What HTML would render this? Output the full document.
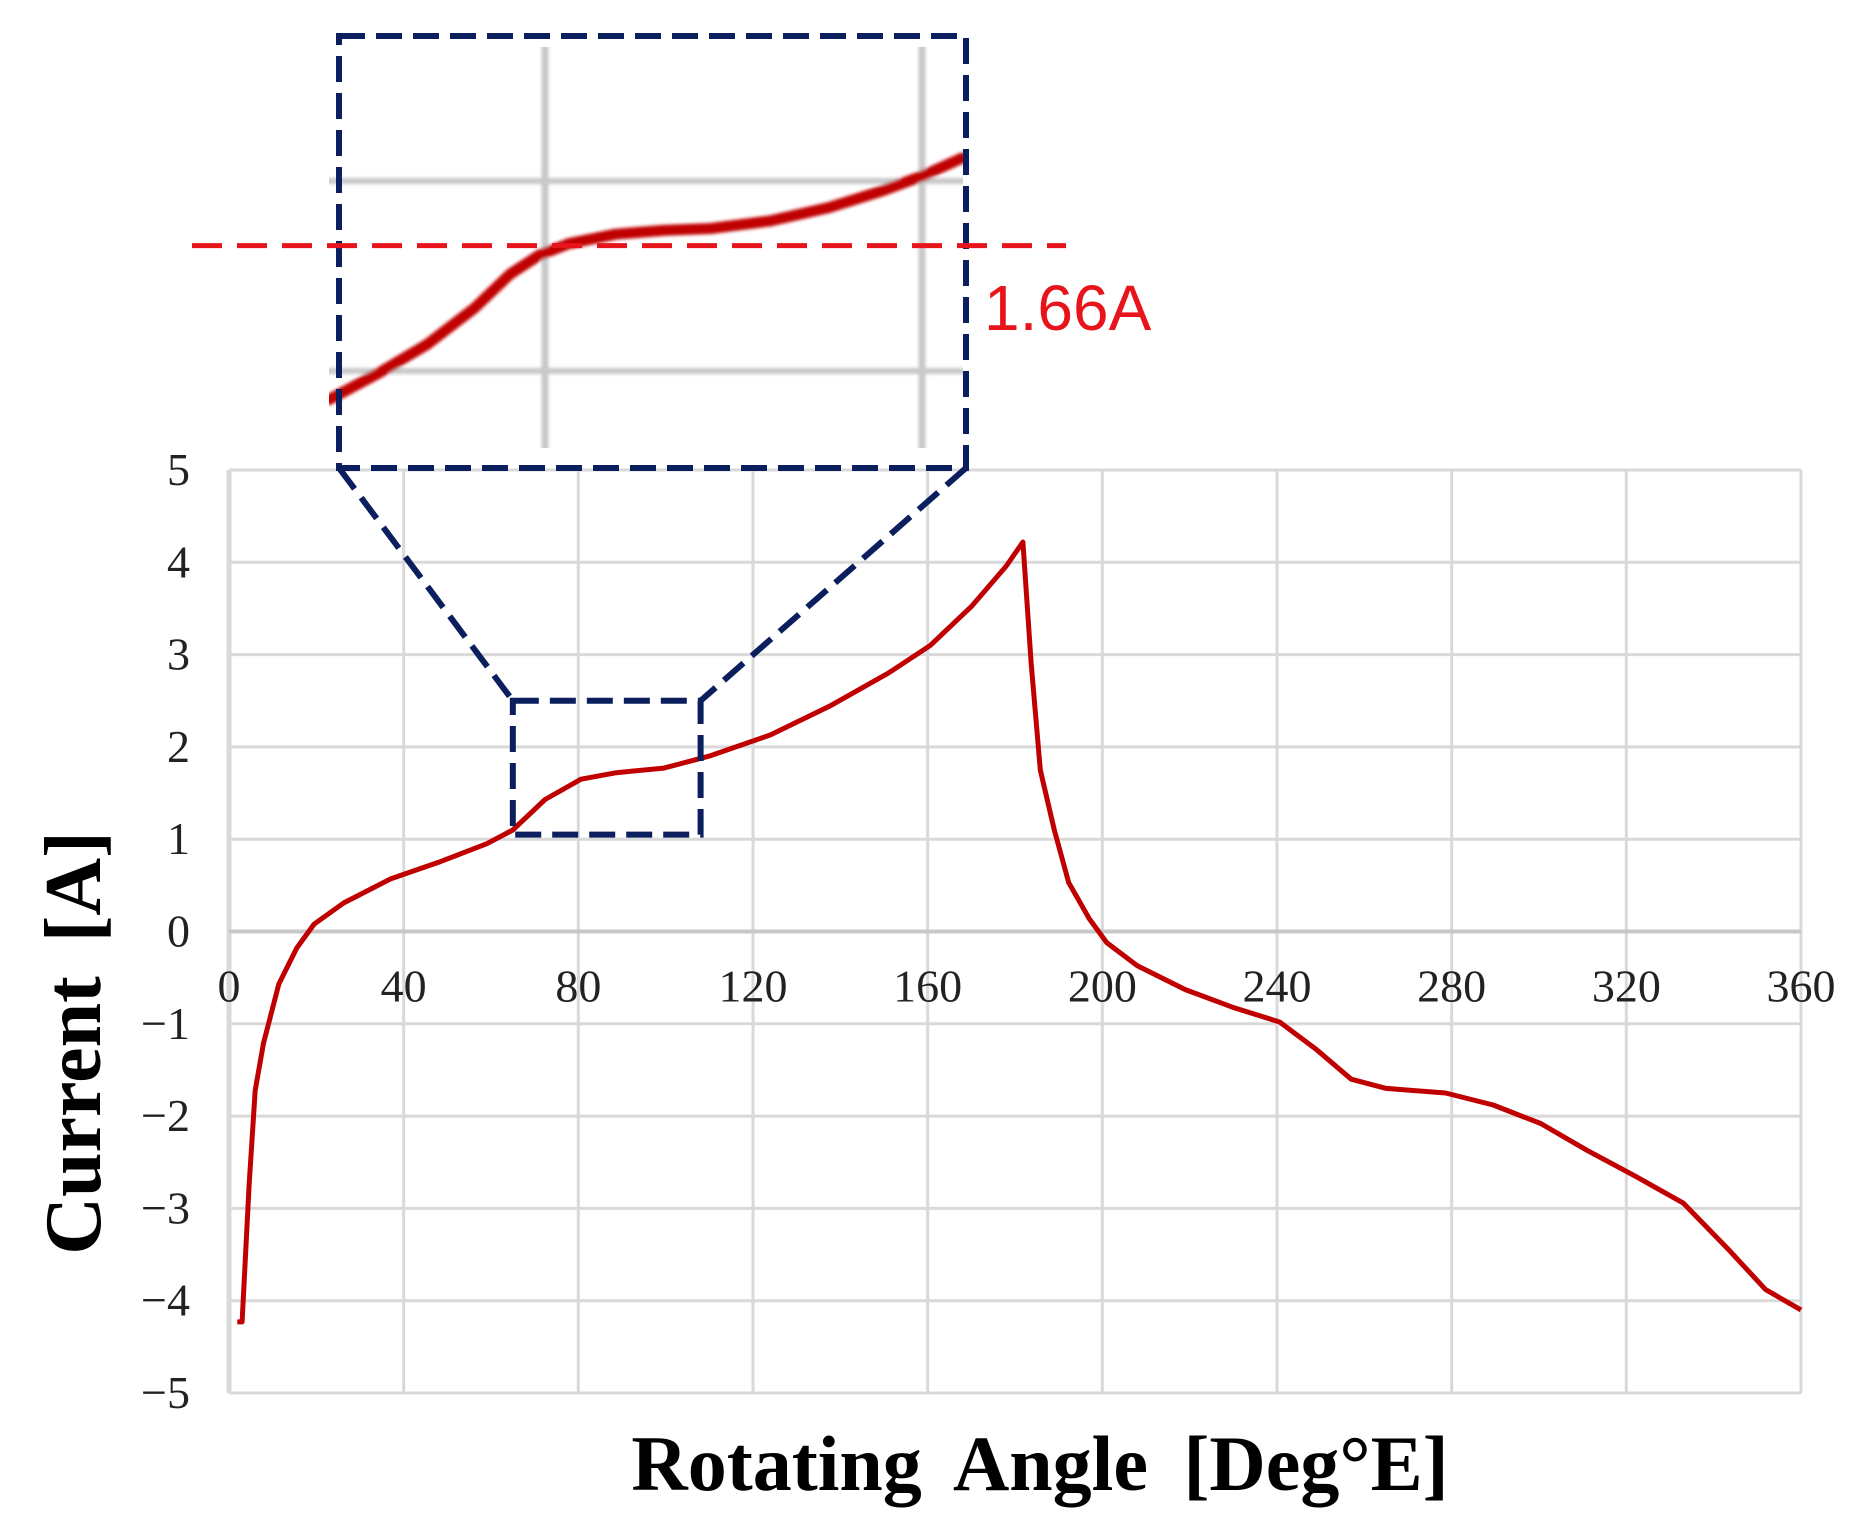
<!DOCTYPE html>
<html><head><meta charset="utf-8"><style>
html,body{margin:0;padding:0;background:#fff;}
svg{display:block;}
.tick{font-family:"Liberation Serif",serif;font-size:46px;fill:#222;}
.title{font-family:"Liberation Serif",serif;font-weight:bold;fill:#000;}
</style></head><body>
<svg id="chart" width="1858" height="1534" viewBox="0 0 1858 1534">
<defs>
<filter id="blur" x="-5%" y="-5%" width="110%" height="110%"><feGaussianBlur stdDeviation="1.6"/></filter>
<clipPath id="insetClip"><rect x="329" y="47" width="634" height="401"/></clipPath>
</defs>
<g id="grid"></g>
<g id="inset" clip-path="url(#insetClip)" filter="url(#blur)"></g>
<g id="marks"></g>
<g id="annot"></g>
<text class="title" font-size="80" word-spacing="14" text-anchor="middle" transform="translate(100,1043) rotate(-90)">Current [A]</text>
<text class="title" font-size="78" word-spacing="16" text-anchor="middle" x="1040" y="1490">Rotating Angle [Deg°E]</text>
<text x="984" y="330" font-family="Liberation Sans, sans-serif" font-size="64" fill="#e8141b">1.66A</text>
</svg>
<script>
const xTicks = [0,40,80,120,160,200,240,280,320,360];
const yTicks = [5,4,3,2,1,0,-1,-2,-3,-4,-5];
const angles = [1.9,3,4.6,6,7.9,11.4,15.5,19.5,26.3,37,48,59,65,72.4,80.6,88.7,99.6,110,124,137.5,151,160.6,170,178,181.8,183.7,185.8,189,192.3,197,201,208,219,229.8,240.6,248.8,257,265,278.6,289.5,300.4,311,322,333,343.7,351.9,360];
const currents = [-4.23,-4.23,-2.75,-1.72,-1.21,-0.57,-0.18,0.08,0.31,0.57,0.75,0.95,1.1,1.43,1.65,1.72,1.77,1.9,2.13,2.44,2.8,3.1,3.52,3.96,4.22,2.9,1.75,1.1,0.53,0.14,-0.12,-0.37,-0.63,-0.82,-0.98,-1.27,-1.6,-1.7,-1.75,-1.88,-2.08,-2.37,-2.65,-2.94,-3.46,-3.88,-4.1];
const insetAngles = [57.1,62.4,67.5,72.5,76.3,79.4,82.5,87.5,92.6,97.6,103.9,110.1,115.9,120.2,124.2];
const insetCurrents = [0.85,0.99,1.14,1.33,1.51,1.61,1.67,1.72,1.74,1.75,1.79,1.86,1.95,2.03,2.12];
const insetGridX = [80,120];
const insetGridY = [1,2];
const threshold = 1.66;
const zoomRange = {a0:65, a1:108, c0:1.05, c1:2.5};

const NS='http://www.w3.org/2000/svg';
const X0=229,X1=1801,Y0=470,Y1=1393;
const xs=v=>X0+(v-0)/360*(X1-X0);
const ys=v=>Y0+(5-v)/10*(Y1-Y0);
const ixs=v=>545+(v-80)*9.425;
const iys=v=>181+(2-v)*190;
function mk(tag,attrs,parent){const e=document.createElementNS(NS,tag);for(const k in attrs)e.setAttribute(k,attrs[k]);parent.appendChild(e);return e;}
const grid=document.getElementById('grid'),marks=document.getElementById('marks'),annot=document.getElementById('annot'),inset=document.getElementById('inset');

xTicks.forEach(t=>{
  const l=mk('line',{x1:xs(t),x2:xs(t),y1:Y0,y2:Y1,stroke:'#d9d9d9','stroke-width':(t===0?5:3)},grid);
  
  
  const tx=mk('text',{x:xs(t),y:ys(0)+70,'text-anchor':'middle',class:'tick'},grid);
  tx.textContent=t;
  
  
});
yTicks.forEach(t=>{
  const l=mk('line',{x1:X0,x2:X1,y1:ys(t),y2:ys(t),stroke:(t===0?'#c8c8c8':'#d9d9d9'),'stroke-width':(t===0?4:3)},grid);
  
  
  const tx=mk('text',{x:190,y:ys(t)+15,'text-anchor':'end',class:'tick'},grid);
  tx.textContent=(t<0?'\u2212':'')+Math.abs(t);
  
  
});

insetGridX.forEach(v=>{
  const l=mk('line',{x1:ixs(v),x2:ixs(v),y1:40,y2:460,stroke:'#c8c8c8','stroke-width':7},inset);
  
  
});
insetGridY.forEach(v=>{
  const l=mk('line',{x1:320,x2:970,y1:iys(v),y2:iys(v),stroke:'#c8c8c8','stroke-width':6},inset);
  
  
});
const ip=mk('path',{d:insetAngles.map((a,i)=>(i?'L':'M')+ixs(a).toFixed(1)+','+iys(insetCurrents[i]).toFixed(1)).join(' '),fill:'none',stroke:'#c00000','stroke-width':11,'stroke-linejoin':'round','stroke-linecap':'round'},inset);



const p=mk('path',{d:angles.map((a,i)=>(i?'L':'M')+xs(a).toFixed(1)+','+ys(currents[i]).toFixed(1)).join(' '),fill:'none',stroke:'#c00000','stroke-width':5,'stroke-linejoin':'round'},marks);



const navy='#0b1f5e';
const sx0=xs(zoomRange.a0),sx1=xs(zoomRange.a1),sy0=ys(zoomRange.c1),sy1=ys(zoomRange.c0);
const bx0=339,bx1=966,by0=36,by1=468;
const dash={fill:'none',stroke:navy,'stroke-width':6,'stroke-dasharray':'26,11'};
const sb=mk('rect',Object.assign({x:sx0,y:sy0,width:sx1-sx0,height:sy1-sy0},dash),annot);


const bb=mk('rect',Object.assign({x:bx0,y:by0,width:bx1-bx0,height:by1-by0},dash),annot);


const c1=mk('line',Object.assign({x1:bx0,y1:by1,x2:sx0,y2:sy0},dash),annot);


const c2=mk('line',Object.assign({x1:bx1,y1:by1,x2:sx1,y2:sy0},dash),annot);



const th=mk('line',{x1:192,x2:1066,y1:iys(threshold),y2:iys(threshold),stroke:'#e8141b','stroke-width':5,'stroke-dasharray':'30,15'},annot);


</script>
</body></html>
